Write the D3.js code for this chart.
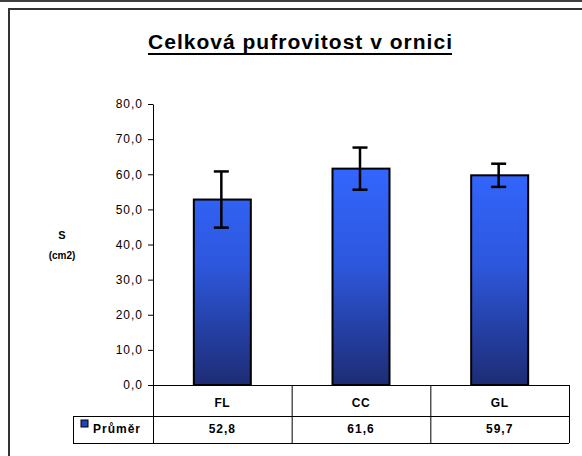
<!DOCTYPE html>
<html><head><meta charset="utf-8">
<script src="https://cdn.jsdelivr.net/npm/d3@7"></script>
<style>body{margin:0;background:#fff}svg{display:block}text{font-family:Arial,"Liberation Sans",sans-serif}</style>
</head><body>
<svg id="c" width="582" height="456"></svg>
<script>
const categories = ["FL", "CC", "GL"];
const means = [52.8, 61.6, 59.7];
const errors = [8.0, 6.0, 3.3];
const yTicks = [0, 10, 20, 30, 40, 50, 60, 70, 80];
const seriesName = "Průměr";
const title = "Celková pufrovitost v ornici";

const svg = d3.select("#c");
const fmt = v => d3.format(".1f")(v).replace(".", ",");

// frames
svg.append("line").attr("x1",0).attr("x2",582).attr("y1",1).attr("y2",1).attr("stroke","#000").attr("stroke-width",1.5);
svg.append("rect").attr("x",9).attr("y",9).attr("width",620).attr("height",500)
  .attr("fill","#fff").attr("stroke","#333").attr("stroke-width",2);

// title
const t = svg.append("text").attr("x",148).attr("y",49)
  .attr("font-size",21).attr("font-weight","bold")
  .attr("textLength",304).attr("lengthAdjust","spacing").text(title);
svg.append("line").attr("x1",148).attr("x2",452).attr("y1",54).attr("y2",54)
  .attr("stroke","#000").attr("stroke-width",2);

const y = d3.scaleLinear().domain([0,80]).range([385,104]);
const x = d3.scaleBand().domain(categories).range([153,569]).paddingInner(0).paddingOuter(0);

// gradient
const defs = svg.append("defs");
const g = defs.append("linearGradient").attr("id","bg").attr("gradientUnits","userSpaceOnUse")
  .attr("x1",0).attr("x2",0).attr("y1",y(62)).attr("y2",y(0));
g.append("stop").attr("offset","0").attr("stop-color","#3366ff");
g.append("stop").attr("offset","0.45").attr("stop-color","#2d57dc");
g.append("stop").attr("offset","1").attr("stop-color","#1d2c74");

// y axis
const ya = svg.append("g").attr("transform","translate(153,0)")
  .call(d3.axisLeft(y).tickValues(yTicks).tickFormat(fmt).tickSize(5).tickSizeOuter(0));
ya.select(".domain").attr("stroke","#000");
ya.selectAll(".tick line").attr("stroke","#000");
ya.selectAll(".tick text").attr("font-size",12).attr("fill","#000").attr("letter-spacing",1).attr("x",-10);

// axis title
svg.append("text").attr("x",62).attr("y",239).attr("text-anchor","middle").attr("font-size",11).attr("font-weight","bold").text("S");
svg.append("text").attr("x",62).attr("y",259).attr("text-anchor","middle").attr("font-size",10).attr("font-weight","bold").text("(cm2)");

// bars
const bw = 57;
svg.append("g").selectAll("rect").data(categories).join("rect")
  .attr("x",(d)=>x(d)+x.bandwidth()/2-bw/2).attr("width",bw)
  .attr("y",(d,i)=>y(means[i])).attr("height",(d,i)=>y(0)-y(means[i]))
  .attr("fill","url(#bg)").attr("stroke","#000").attr("stroke-width",2);

// error bars
const eb = svg.append("g").attr("stroke","#000").attr("stroke-width",2.5);
categories.forEach((c,i)=>{
  const cx = x(c)+x.bandwidth()/2 - 1;
  eb.append("line").attr("x1",cx).attr("x2",cx).attr("y1",y(means[i]+errors[i])).attr("y2",y(means[i]-errors[i]));
  [means[i]+errors[i], means[i]-errors[i]].forEach(v=>{
    eb.append("line").attr("x1",cx-7.5).attr("x2",cx+7.5).attr("y1",y(v)).attr("y2",y(v));
  });
});

// table
const rowTop = 385, rowMid = 416, rowBot = 443, tblLeft = 73;
const tg = svg.append("g").attr("stroke","#000").attr("stroke-width",1);
tg.append("line").attr("x1",153).attr("x2",569).attr("y1",rowTop+0.5).attr("y2",rowTop+0.5);
tg.append("line").attr("x1",tblLeft).attr("x2",569).attr("y1",rowMid+0.5).attr("y2",rowMid+0.5);
tg.append("line").attr("x1",tblLeft).attr("x2",569).attr("y1",rowBot+0.5).attr("y2",rowBot+0.5);
tg.append("line").attr("x1",tblLeft+0.5).attr("x2",tblLeft+0.5).attr("y1",rowMid).attr("y2",rowBot);
const edges = categories.map(c=>x(c)).concat([x.range()[1]]);
edges.forEach(e=>{
  tg.append("line").attr("x1",e+0.5).attr("x2",e+0.5).attr("y1",rowTop).attr("y2",rowBot);
});
svg.append("g").selectAll("text").data(categories).join("text")
  .attr("x",d=>x(d)+x.bandwidth()/2).attr("y",407).attr("text-anchor","middle")
  .attr("font-size",12).attr("font-weight","bold").attr("letter-spacing",0.5).text(d=>d);
svg.append("g").selectAll("text").data(means).join("text")
  .attr("x",(d,i)=>x(categories[i])+x.bandwidth()/2).attr("y",433).attr("text-anchor","middle")
  .attr("font-size",12).attr("font-weight","bold").attr("letter-spacing",1).text(d=>fmt(d));
// legend key
svg.append("rect").attr("x",81).attr("y",420).attr("width",7).attr("height",7)
  .attr("fill","#2244bb").attr("stroke","#000").attr("stroke-width",1);
svg.append("text").attr("x",93).attr("y",433).attr("font-size",12).attr("font-weight","bold").attr("letter-spacing",1).text(seriesName);
</script>
</body></html>
